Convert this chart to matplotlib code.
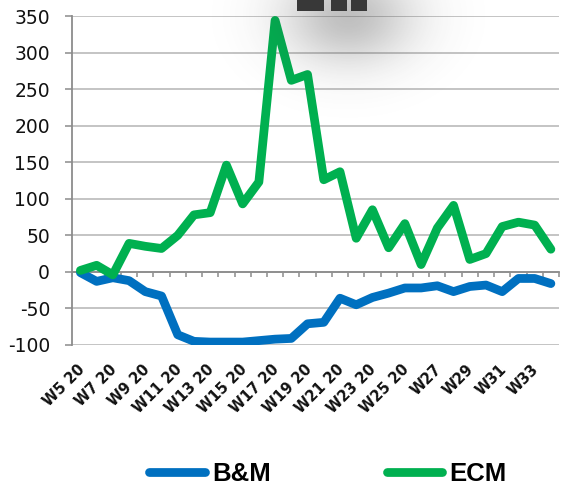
import numpy as np
import matplotlib
matplotlib.use("Agg")
import matplotlib.pyplot as plt
from matplotlib.transforms import blended_transform_factory, offset_copy
from matplotlib.patches import Rectangle

# Weekly index change (%) by channel
weeks = ["W5 20", "W6 20", "W7 20", "W8 20", "W9 20", "W10 20", "W11 20",
         "W12 20", "W13 20", "W14 20", "W15 20", "W16 20", "W17 20", "W18 20",
         "W19 20", "W20 20", "W21 20", "W22 20", "W23 20", "W24 20", "W25 20",
         "W26 20", "W27", "W28", "W29", "W30", "W31", "W32", "W33", "W34"]
bm = [-1, -13, -8, -12, -27, -33, -86, -95, -96, -96, -96, -94, -92, -91,
      -71, -69, -36, -45, -35, -29, -22, -22, -19, -27, -20, -18, -27, -9,
      -9, -16]
ecm = [2, 9, -4, 39, 35, 32, 50, 78, 81, 146, 93, 123, 344, 262, 270, 126,
       137, 46, 85, 33, 66, 10, 60, 91, 17, 25, 62, 68, 64, 31]
y_ticks = [-100, -50, 0, 50, 100, 150, 200, 250, 300, 350]
series_names = ["B&M", "ECM"]

W, H = 561, 487
fig = plt.figure(figsize=(W / 100, H / 100), dpi=100)
fig.patch.set_facecolor("white")

L, R, T, B = 72.3, 559, 16, 345
ax = fig.add_axes([L / W, 1 - B / H, (R - L) / W, (B - T) / H])

x = np.arange(len(weeks))
blue, green = "#0070C0", "#00B050"
lb, = ax.plot(x, bm, color=blue, lw=6.3, solid_joinstyle="round",
              solid_capstyle="round", zorder=3)
lg, = ax.plot(x, ecm, color=green, lw=6.3, solid_joinstyle="round",
              solid_capstyle="round", zorder=4)

ax.set_xlim(-0.5, len(weeks) - 0.5)
ax.set_ylim(-100, 350)

grid_c = "#BFBFBF"
axis_c = "#8C8C8C"
ax.set_yticks(y_ticks)
ax.set_yticklabels([str(v) for v in y_ticks], fontsize=13.5,
                   family="DejaVu Sans", color="#111111")
ax.yaxis.grid(True, color=grid_c, lw=1.3)
ax.set_axisbelow(True)
ax.tick_params(axis="y", length=5, width=1.1, color=axis_c, pad=11)

# category axis crosses at zero, tick marks between categories
ax.spines["bottom"].set_position(("data", 0))
ax.spines["bottom"].set_color(axis_c)
ax.spines["bottom"].set_linewidth(1.3)
ax.spines["left"].set_color(axis_c)
ax.spines["left"].set_linewidth(1.3)
for s in ("top", "right"):
    ax.spines[s].set_visible(False)
ax.set_xticks(np.arange(len(weeks) + 1) - 0.5)
ax.set_xticklabels([])
ax.tick_params(axis="x", length=3.8, width=1.1, color=axis_c)

# rotated category labels below the plot area, every second week
trans = offset_copy(blended_transform_factory(ax.transData, ax.transAxes),
                    fig=fig, x=0, y=-22, units="dots")
for i in range(0, len(weeks), 2):
    ax.text(i + 0.1, 0, weeks[i], transform=trans, rotation=45,
            rotation_mode="anchor", ha="right", va="center",
            fontsize=10.5, fontweight="bold", family="DejaVu Sans",
            color="#111111")

leg = fig.legend([lb, lg], series_names, loc="center",
                 bbox_to_anchor=(0.585, 0.027), ncol=2, frameon=False,
                 prop={"family": "Liberation Sans", "weight": "bold",
                       "size": 18.5},
                 handlelength=2.15, handletextpad=0.3, columnspacing=4.5,
                 borderpad=0, borderaxespad=0)
for h in leg.get_lines():
    h.set_solid_capstyle("round")
    h.set_linewidth(6.3)

# overlay: player control shadow and buttons at the top
ov = fig.add_axes([0, 0, 1, 1], zorder=10)
ov.set_xlim(0, W)
ov.set_ylim(H, 0)
ov.axis("off")
ov.patch.set_alpha(0)
yy, xx = np.mgrid[0:260, 140:561]
d2 = ((xx - 348) / 46.0) ** 2 + ((yy - 16) / 34.0) ** 2
alpha = 0.33 * np.exp(-d2 / 2)
img = np.zeros((260, 421, 4))
img[..., :3] = 0.25
img[..., 3] = alpha
ov.imshow(img, extent=(140, 561, 260, 0), interpolation="bilinear",
          aspect="auto", zorder=1)
for x0, x1 in [(297, 324), (331, 347), (351, 367)]:
    ov.add_patch(Rectangle((x0, -2), x1 - x0, 13, color="#383838", zorder=2,
                           lw=0))

fig.savefig("out.png", dpi=100)
